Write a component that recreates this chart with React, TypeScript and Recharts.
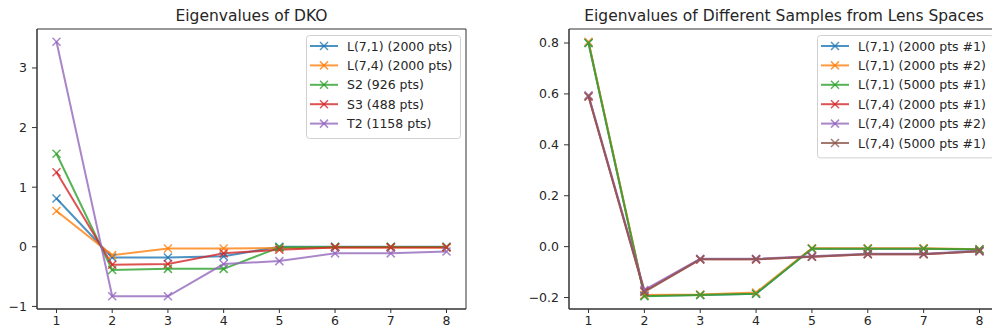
import React from "react";
import { LineChart, Line, XAxis, YAxis, ReferenceArea } from "recharts";

// ---------- data ----------
const ranks = [1, 2, 3, 4, 5, 6, 7, 8];
const xTicks = [1, 2, 3, 4, 5, 6, 7, 8];

// Left panel: Eigenvalues of DKO
const dkoL71 = [0.81, -0.18, -0.18, -0.16, 0.0, 0.0, 0.0, 0.0];
const dkoL74 = [0.6, -0.14, -0.03, -0.03, -0.02, -0.01, -0.01, -0.01];
const dkoS2 = [1.56, -0.39, -0.37, -0.37, -0.01, -0.005, -0.005, -0.005];
const dkoS3 = [1.25, -0.3, -0.29, -0.11, -0.05, -0.01, -0.01, -0.01];
const dkoT2 = [3.44, -0.83, -0.83, -0.29, -0.24, -0.11, -0.11, -0.08];
const leftNames = [
  "L(7,1) (2000 pts)",
  "L(7,4) (2000 pts)",
  "S2 (926 pts)",
  "S3 (488 pts)",
  "T2 (1158 pts)",
];
const leftYTicks = [-1, 0, 1, 2, 3];

// Right panel: Eigenvalues of Different Samples from Lens Spaces
const lensL71a = [0.8, -0.193, -0.19, -0.185, -0.008, -0.008, -0.008, -0.012];
const lensL71b = [0.805, -0.19, -0.188, -0.18, -0.006, -0.006, -0.006, -0.01];
const lensL71c = [0.8, -0.195, -0.19, -0.185, -0.008, -0.008, -0.008, -0.01];
const lensL74a = [0.59, -0.175, -0.05, -0.05, -0.04, -0.03, -0.03, -0.018];
const lensL74b = [0.595, -0.17, -0.048, -0.048, -0.038, -0.028, -0.028, -0.017];
const lensL74c = [0.59, -0.178, -0.05, -0.05, -0.04, -0.03, -0.03, -0.018];
const rightNames = [
  "L(7,1) (2000 pts #1)",
  "L(7,1) (2000 pts #2)",
  "L(7,1) (5000 pts #1)",
  "L(7,4) (2000 pts #1)",
  "L(7,4) (2000 pts #2)",
  "L(7,4) (5000 pts #1)",
];
const rightYTicks = [-0.2, 0, 0.2, 0.4, 0.6, 0.8];

const leftTitle = "Eigenvalues of DKO";
const rightTitle = "Eigenvalues of Different Samples from Lens Spaces";

// ---------- styling ----------
const COLORS = ["#1f77b4", "#ff7f0e", "#2ca02c", "#d62728", "#9467bd", "#8c564b"];
const AXIS = "#333";
const TEXT = "#262626";
const FONT = "DejaVu Sans, sans-serif";
const LINE_OP = 0.8;
const FS = 12.5;
const TITLE_FS = 15.5;

function buildRows(series: number[][]) {
  return ranks.map((r, i) => {
    const row: Record<string, number> = { rank: r };
    series.forEach((s, k) => {
      row["s" + k] = s[i];
    });
    return row;
  });
}

function paddedDomain(series: number[][]): [number, number] {
  const all = series.flat();
  const mn = Math.min(...all);
  const mx = Math.max(...all);
  const pad = (mx - mn) * 0.05;
  return [mn - pad, mx + pad];
}

const xPad = (ranks[ranks.length - 1] - ranks[0]) * 0.05;
const X_DOMAIN: [number, number] = [ranks[0] - xPad, ranks[ranks.length - 1] + xPad];

const minus = (s: string) => s.replace("-", "\u2212");

const makeXDot = (color: string) => (props: any) => {
  const { cx, cy, index } = props;
  if (cx == null || cy == null) return <g key={"n" + index} />;
  const h = 4;
  return (
    <g key={"x" + index} stroke={color} strokeWidth={1.5} strokeOpacity={LINE_OP}>
      <line x1={cx - h} y1={cy - h} x2={cx + h} y2={cy + h} />
      <line x1={cx - h} y1={cy + h} x2={cx + h} y2={cy - h} />
    </g>
  );
};

type PanelProps = {
  series: number[][];
  yTicks: number[];
  fmt: (v: number) => string;
  width: number;
  yAxisWidth: number;
  marginRight: number;
};

function Panel({ series, yTicks, fmt, width, yAxisWidth, marginRight }: PanelProps) {
  const data = buildRows(series);
  const yDomain = paddedDomain(series);
  const tickStyle = { fontSize: FS, fill: TEXT, fontFamily: FONT };
  return (
    <LineChart
      width={width}
      height={331}
      data={data}
      margin={{ top: 29, right: marginRight, bottom: 0, left: 0 }}
    >
      <XAxis
        dataKey="rank"
        type="number"
        domain={X_DOMAIN}
        ticks={xTicks}
        allowDataOverflow
        height={22}
        tick={tickStyle}
        tickSize={4}
        tickMargin={3}
        stroke={AXIS}
        axisLine={{ stroke: AXIS }}
        tickLine={{ stroke: AXIS }}
      />
      <YAxis
        type="number"
        domain={yDomain}
        ticks={yTicks}
        allowDataOverflow
        width={yAxisWidth}
        tick={tickStyle}
        tickFormatter={fmt}
        tickSize={5}
        tickMargin={5}
        axisLine={{ stroke: AXIS }}
        tickLine={{ stroke: AXIS }}
      />
      <ReferenceArea
        x1={X_DOMAIN[0]}
        x2={X_DOMAIN[1]}
        y1={yDomain[0]}
        y2={yDomain[1]}
        fill="none"
        stroke={AXIS}
        strokeWidth={1}
        ifOverflow="visible"
      />
      {series.map((_, k) => (
        <Line
          key={k}
          dataKey={"s" + k}
          type="linear"
          stroke={COLORS[k]}
          strokeWidth={2}
          strokeOpacity={LINE_OP}
          dot={makeXDot(COLORS[k])}
          activeDot={false}
          isAnimationActive={false}
        />
      ))}
    </LineChart>
  );
}

function LegendBox({
  names,
  x,
  y,
  w,
}: {
  names: string[];
  x: number;
  y: number;
  w: number;
}) {
  const rowH = 19.4;
  const h = names.length * rowH + 6;
  return (
    <g>
      <rect
        x={x + 0.5}
        y={y + 0.5}
        width={w}
        height={h}
        rx={3}
        fill="#fff"
        fillOpacity={0.8}
        stroke="#d0d0d0"
      />
      {names.map((n, i) => {
        const cy = y + 11 + i * rowH;
        const lx = x + 4;
        const mx = lx + 14;
        const hh = 4;
        return (
          <g key={n}>
            <line
              x1={lx}
              y1={cy}
              x2={lx + 28}
              y2={cy}
              stroke={COLORS[i]}
              strokeWidth={2}
              strokeOpacity={LINE_OP}
            />
            <g stroke={COLORS[i]} strokeWidth={1.5} strokeOpacity={LINE_OP}>
              <line x1={mx - hh} y1={cy - hh} x2={mx + hh} y2={cy + hh} />
              <line x1={mx - hh} y1={cy + hh} x2={mx + hh} y2={cy - hh} />
            </g>
            <text x={lx + 37} y={cy + 4.5} fontSize={FS} fill={TEXT} fontFamily={FONT}>
              {n}
            </text>
          </g>
        );
      })}
    </g>
  );
}

export default function App() {
  const leftSeries = [dkoL71, dkoL74, dkoS2, dkoS3, dkoT2];
  const rightSeries = [lensL71a, lensL71b, lensL71c, lensL74a, lensL74b, lensL74c];
  return (
    <div
      style={{
        position: "absolute",
        left: 0,
        top: 0,
        width: 992,
        height: 331,
        overflow: "hidden",
        background: "#fff",
      }}
    >
      <div style={{ position: "absolute", left: 0, top: 0 }}>
        <Panel
          series={leftSeries}
          yTicks={leftYTicks}
          fmt={(v) => minus(String(v))}
          width={480}
          yAxisWidth={37}
          marginRight={14}
        />
      </div>
      <div style={{ position: "absolute", left: 520, top: 0 }}>
        <Panel
          series={rightSeries}
          yTicks={rightYTicks}
          fmt={(v) => minus(v.toFixed(1))}
          width={490}
          yAxisWidth={49}
          marginRight={11}
        />
      </div>
      <svg
        width={992}
        height={331}
        style={{ position: "absolute", left: 0, top: 0, pointerEvents: "none" }}
      >
        <text
          x={251.5}
          y={21}
          textAnchor="middle"
          fontSize={TITLE_FS}
          fill={TEXT}
          fontFamily={FONT}
        >
          {leftTitle}
        </text>
        <text
          x={784}
          y={21}
          textAnchor="middle"
          fontSize={TITLE_FS}
          fill={TEXT}
          fontFamily={FONT}
        >
          {rightTitle}
        </text>
        <LegendBox names={leftNames} x={306} y={35} w={154} />
        <LegendBox names={rightNames} x={817} y={35} w={176} />
      </svg>
    </div>
  );
}
